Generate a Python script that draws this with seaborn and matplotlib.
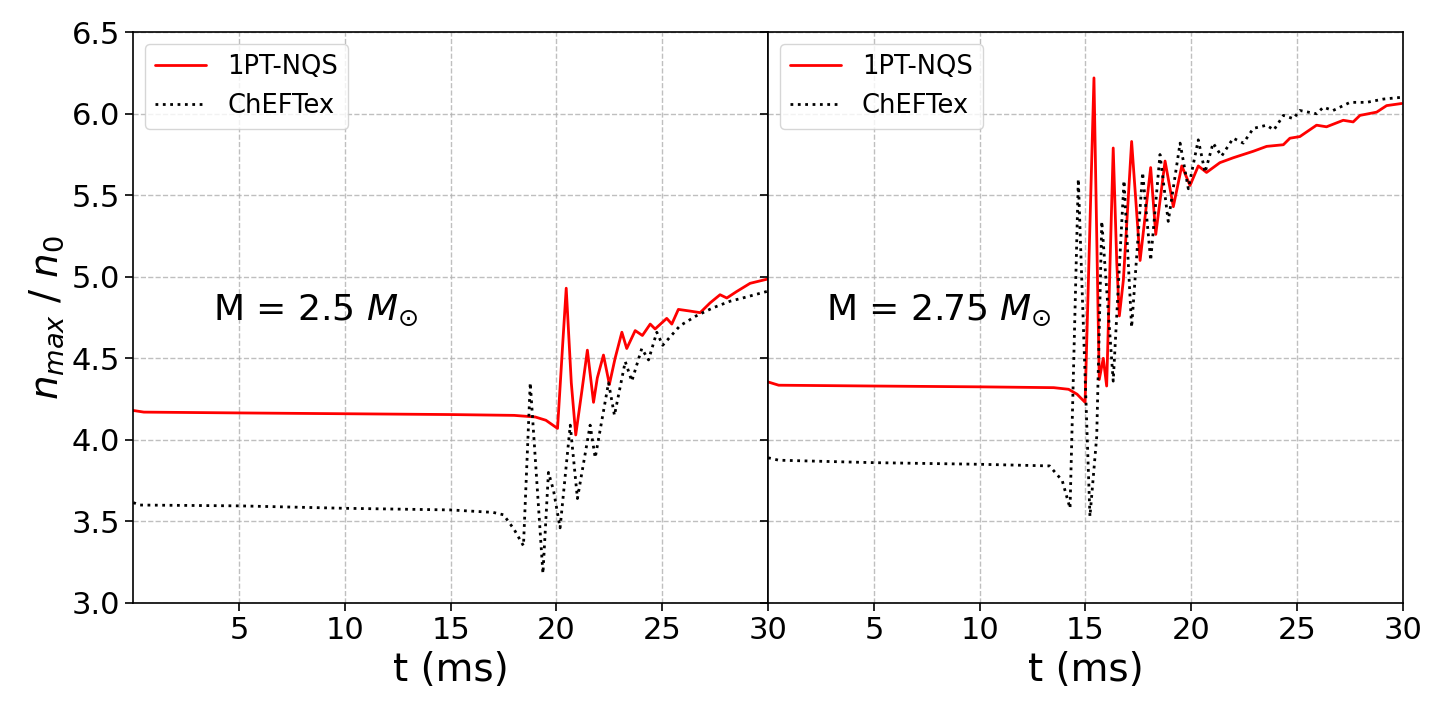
import numpy as np
import pandas as pd
import matplotlib
matplotlib.use("Agg")
import matplotlib.pyplot as plt
import seaborn as sns

# values (t in ms, n_max / n_0)
t_nqs_25 = [0.0, 0.5, 5, 10, 15, 18, 19, 19.5, 20.05, 20.3, 20.46, 20.7, 20.91, 21.2, 21.46,
            21.75, 21.93, 22.22, 22.5, 22.77, 23.09, 23.32, 23.72, 24.06, 24.43, 24.66,
            25.21, 25.45, 25.76, 26.3, 26.79, 27.26, 27.73, 28.05, 28.52, 29.15, 29.94]
n_nqs_25 = [4.18, 4.17, 4.165, 4.16, 4.155, 4.15, 4.14, 4.12, 4.07, 4.6, 4.93, 4.35, 4.03, 4.30, 4.55,
            4.23, 4.38, 4.52, 4.34, 4.50, 4.66, 4.56, 4.67, 4.64, 4.71, 4.68,
            4.745, 4.71, 4.80, 4.79, 4.78, 4.84, 4.89, 4.87, 4.91, 4.96, 4.985]

t_chef_25 = [0.0, 0.3, 5, 10, 15, 17, 17.5, 18.0, 18.44, 18.76, 19.36, 19.62, 19.86, 20.17, 20.65,
             20.99, 21.59, 21.83, 22.46, 22.74, 23.25, 23.56, 24.03, 24.35, 24.74, 25.02,
             25.84, 26.6, 27.4, 28.2, 28.8, 29.94]
n_chef_25 = [3.615, 3.60, 3.595, 3.58, 3.57, 3.555, 3.54, 3.45, 3.35, 4.35, 3.18, 3.80, 3.69, 3.46, 4.09,
             3.64, 4.09, 3.89, 4.35, 4.15, 4.48, 4.36, 4.56, 4.49, 4.66, 4.58,
             4.70, 4.76, 4.81, 4.85, 4.87, 4.91]

t_nqs_275 = [0.0, 0.5, 5, 10, 13.5, 14.2, 14.6, 14.98, 15.4, 15.65, 15.84, 16.0, 16.31, 16.48, 16.6,
             16.79, 17.18, 17.58, 18.08, 18.32, 18.76, 19.15, 19.55, 19.94, 20.33, 20.72,
             21.35, 21.98, 22.93, 23.56, 24.35, 24.66, 25.13, 25.92, 26.39, 27.18, 27.65,
             27.97, 28.76, 29.23, 29.94]
n_nqs_275 = [4.355, 4.335, 4.33, 4.325, 4.32, 4.31, 4.28, 4.23, 6.22, 4.37, 4.50, 4.33, 5.79, 5.08, 4.76,
             4.98, 5.83, 5.10, 5.67, 5.26, 5.71, 5.43, 5.68, 5.56, 5.68, 5.64,
             5.70, 5.73, 5.77, 5.80, 5.81, 5.85, 5.86, 5.93, 5.92, 5.96, 5.95,
             5.99, 6.01, 6.05, 6.063]

t_chef_275 = [0.0, 0.5, 5, 10, 13.3, 13.9, 14.27, 14.66, 15.21, 15.53, 15.77, 16.31, 16.82, 17.18, 17.7,
              18.08, 18.52, 18.91, 19.47, 19.86, 20.33, 20.65, 21.03, 21.43, 21.98, 22.46,
              22.93, 23.56, 23.9, 24.35, 24.82, 25.13, 25.92, 26.24, 26.7, 27.5, 28.29,
              29.07, 29.86]
n_chef_275 = [3.89, 3.875, 3.86, 3.85, 3.84, 3.75, 3.58, 5.60, 3.53, 4.02, 5.34, 4.36, 5.59, 4.69, 5.64,
              5.10, 5.75, 5.34, 5.82, 5.54, 5.84, 5.64, 5.82, 5.74, 5.85, 5.82,
              5.91, 5.93, 5.90, 5.99, 5.97, 6.02, 6.00, 6.04, 6.02, 6.07, 6.07,
              6.09, 6.10]

panels = [
    (t_nqs_25, n_nqs_25, t_chef_25, n_chef_25, r"M = 2.5 $M_{\odot}$", 3.78),
    (t_nqs_275, n_nqs_275, t_chef_275, n_chef_275, r"M = 2.75 $M_{\odot}$", 2.74),
]

sns.set_style("ticks")
plt.rcParams['font.family'] = ['DejaVu Sans']
plt.rcParams['text.color'] = 'black'
plt.rcParams['axes.labelcolor'] = 'black'

fig, axes = plt.subplots(1, 2, sharey=True, figsize=(14.33, 7.01), dpi=100)
fig.subplots_adjust(left=0.093, right=0.979, bottom=0.14, top=0.954, wspace=0)

for ax, (t1, n1, t2, n2, label, xtext) in zip(axes, panels):
    sns.lineplot(x=t1, y=n1, ax=ax, color="red", linewidth=2, label="1PT-NQS")
    sns.lineplot(x=t2, y=n2, ax=ax, color="black", linewidth=2, linestyle=":", label="ChEFTex")
    ax.set_xlim(0, 30)
    ax.set_ylim(3.0, 6.5)
    ax.set_xticks([5, 10, 15, 20, 25, 30])
    ax.set_yticks(np.arange(3.0, 6.51, 0.5))
    ax.grid(True, linestyle="--", color="#b0b0b0", linewidth=1, alpha=0.8)
    ax.tick_params(labelsize=22, length=6, width=1.2, direction="out", colors="black")
    for s in ax.spines.values():
        s.set_color("black")
        s.set_linewidth(1.2)
    ax.set_xlabel("t (ms)", fontsize=28)
    ax.text(xtext, 4.735, label, fontsize=26, va="baseline", ha="left", color="black")
    ax.legend(loc="upper left", fontsize=18.5, frameon=True, borderaxespad=0.45)

axes[0].set_ylabel(r"$n_{max}$ / $n_0$", fontsize=28)
axes[0].yaxis.set_major_formatter(matplotlib.ticker.FormatStrFormatter('%.1f'))
axes[1].tick_params(labelleft=False)

fig.savefig("out.png", dpi=100)
